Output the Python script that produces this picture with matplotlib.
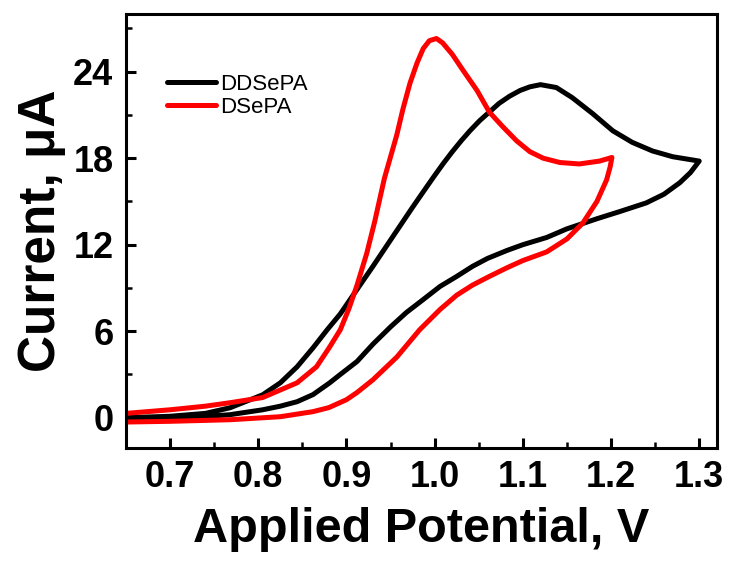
import matplotlib
matplotlib.use("Agg")
import matplotlib.pyplot as plt
from matplotlib.ticker import MultipleLocator

plt.rcParams["font.family"] = ["Liberation Sans", "DejaVu Sans"]

# DDSePA cyclic voltammogram: anodic sweep then return sweep (V, uA)
ddsepa_fwd_v = [0.65, 0.70, 0.74, 0.768, 0.805, 0.825, 0.844, 0.862, 0.878, 0.893, 0.912,
                0.930, 0.953, 0.975, 0.988, 1.000, 1.010, 1.020, 1.030, 1.040, 1.051,
                1.062, 1.073, 1.085, 1.097, 1.108, 1.120, 1.138, 1.156, 1.179, 1.202,
                1.224, 1.247, 1.270, 1.300]
ddsepa_fwd_i = [0.0, 0.1, 0.3, 0.69, 1.59, 2.42, 3.53, 4.84, 6.09, 7.2, 8.9,
                10.5, 12.6, 14.6, 15.75, 16.8, 17.65, 18.45, 19.2, 19.9, 20.6,
                21.2, 21.8, 22.3, 22.7, 22.95, 23.1, 22.9, 22.2, 21.1, 19.9,
                19.1, 18.5, 18.1, 17.8]
ddsepa_rev_v = [1.290, 1.278, 1.260, 1.240, 1.210, 1.184, 1.150, 1.127, 1.100, 1.082,
                1.060, 1.043, 1.025, 1.006, 0.985, 0.968, 0.950, 0.930, 0.912, 0.893,
                0.881, 0.862, 0.844, 0.825, 0.805, 0.768, 0.72, 0.65]
ddsepa_rev_i = [17.0, 16.3, 15.5, 14.9, 14.3, 13.8, 13.1, 12.5, 12.0, 11.6,
                11.05, 10.5, 9.8, 9.1, 8.1, 7.3, 6.3, 5.1, 3.9, 3.0,
                2.42, 1.6, 1.11, 0.8, 0.55, 0.21, 0.0, -0.15]

# DSePA cyclic voltammogram
dsepa_fwd_v = [0.65, 0.70, 0.74, 0.768, 0.805, 0.844, 0.866, 0.881, 0.893, 0.903, 0.912,
               0.923, 0.932, 0.943, 0.957, 0.964, 0.972, 0.980, 0.987, 0.994, 1.002,
               1.009, 1.020, 1.031, 1.048, 1.062, 1.077, 1.093, 1.108, 1.123, 1.142,
               1.164, 1.187, 1.201]
dsepa_fwd_i = [0.3, 0.55, 0.8, 1.04, 1.4, 2.42, 3.53, 4.91, 6.1, 7.6, 9.2,
               11.4, 13.6, 16.6, 19.6, 21.4, 23.2, 24.6, 25.6, 26.15, 26.3,
               26.0, 25.2, 24.2, 22.7, 21.2, 20.2, 19.2, 18.45, 18.0, 17.7,
               17.6, 17.8, 18.05]
dsepa_rev_v = [1.199, 1.195, 1.184, 1.168, 1.150, 1.127, 1.100, 1.082, 1.062, 1.043,
               1.025, 1.006, 0.983, 0.957, 0.930, 0.912, 0.900, 0.880, 0.862, 0.825,
               0.768, 0.70, 0.65]
dsepa_rev_i = [17.4, 16.5, 15.0, 13.5, 12.4, 11.5, 10.9, 10.4, 9.8, 9.2,
               8.5, 7.5, 6.1, 4.2, 2.63, 1.75, 1.25, 0.7, 0.42, 0.07,
               -0.14, -0.25, -0.3]

x_ticks = [0.7, 0.8, 0.9, 1.0, 1.1, 1.2, 1.3]
y_ticks = [0, 6, 12, 18, 24]

fig = plt.figure(figsize=(7.3, 5.67), dpi=100)
ax = fig.add_axes([0.1726, 0.2099, 0.8094, 0.7654])

ax.plot(ddsepa_fwd_v + ddsepa_rev_v, ddsepa_fwd_i + ddsepa_rev_i,
        color="black", lw=3.6, solid_capstyle="round", solid_joinstyle="round",
        label="DDSePA")
ax.plot(dsepa_fwd_v + dsepa_rev_v, dsepa_fwd_i + dsepa_rev_i,
        color="#ff0000", lw=3.6, solid_capstyle="round", solid_joinstyle="round",
        label="DSePA")

ax.set_xlim(0.65, 1.32)
ax.set_ylim(-2.1, 28)
ax.set_xticks(x_ticks)
ax.set_yticks(y_ticks)
ax.set_xticklabels([f"{v:.1f}" for v in x_ticks])
ax.xaxis.set_minor_locator(MultipleLocator(0.05))
ax.yaxis.set_minor_locator(MultipleLocator(3))

for s in ax.spines.values():
    s.set_linewidth(2.2)
ax.tick_params(which="major", direction="in", length=7, width=2.2,
               labelsize=26, pad=9)
ax.tick_params(which="minor", direction="in", length=4, width=1.8)
for lab in ax.get_xticklabels() + ax.get_yticklabels():
    lab.set_fontweight("bold")

ax.set_xlabel("Applied Potential, V", fontsize=35, fontweight="bold", labelpad=8)
ax.set_ylabel("Current, μA", fontsize=37, fontweight="bold", labelpad=5)

ax.legend(loc="upper left", bbox_to_anchor=(0.069, 0.862), frameon=False,
          fontsize=16, handlelength=2.2, handletextpad=0.2, labelspacing=0.1,
          borderpad=0, borderaxespad=0)

fig.savefig("out.png", dpi=100)
